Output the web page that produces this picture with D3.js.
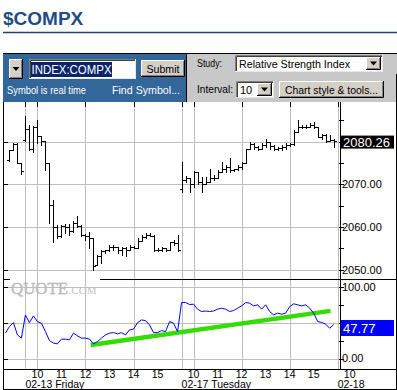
<!DOCTYPE html>
<html>
<head>
<meta charset="utf-8">
<script src="https://cdn.jsdelivr.net/npm/d3@7"></script>
<style>
  body { margin: 0; background: #fff; }
  svg { display: block; }
</style>
</head>
<body>
<div id="chart"></div>
<script>
// ---- data (10 minute bars, Thursday close, Friday 02-13, Tuesday 02-17) ----
// bar start time in trading minutes, Friday 9:30 = 0, one session = 390 min
const barTimes = d3.range(-40, 0, 10).concat(d3.range(0, 780, 10));
const rsiTimes = d3.range(-50, 0, 10).concat(d3.range(0, 780, 10));

const opens = [
  2075.8, 2078.0, 2079.5, 2075.0,
  2080.3, 2083.0, 2078.2, 2083.5, 2081.3, 2080.1, 2074.9, 2065.2, 2060.1, 2057.8,
  2060.3, 2060.0, 2059.0, 2061.0, 2060.3, 2058.2, 2057.8, 2057.4, 2051.2, 2053.1,
  2054.3, 2054.6, 2055.4, 2055.4, 2054.6, 2055.0, 2054.6, 2055.4, 2055.2, 2056.8,
  2057.6, 2058.1, 2057.8, 2054.6, 2054.6, 2055.0, 2054.6, 2056.6, 2056.2,
  2068.8, 2071.0, 2071.4, 2070.0, 2073.0, 2070.5, 2070.2, 2070.5, 2071.4, 2071.6,
  2072.9, 2073.5, 2074.1, 2073.3, 2073.5, 2074.1, 2075.1, 2078.2, 2079.4, 2078.8,
  2078.2, 2079.2, 2080.0, 2079.0, 2078.4, 2078.5, 2078.8, 2079.2, 2079.4, 2082.3,
  2083.5, 2083.5, 2083.5, 2084.0, 2083.5, 2081.1, 2081.5, 2080.2, 2080.5
];
const highs = [
  2078.1, 2079.7, 2079.6, 2075.0,
  2086.0, 2083.9, 2083.7, 2085.0, 2081.4, 2080.2, 2074.9, 2066.3, 2060.5, 2060.5,
  2060.7, 2060.7, 2061.3, 2062.6, 2060.5, 2058.3, 2058.9, 2057.4, 2053.5, 2054.6,
  2054.6, 2055.8, 2055.8, 2055.4, 2055.4, 2055.4, 2055.8, 2055.5, 2057.4, 2058.2,
  2058.6, 2058.6, 2058.2, 2055.0, 2055.4, 2055.0, 2056.6, 2057.0, 2058.2,
  2075.3, 2072.0, 2071.6, 2073.2, 2073.0, 2071.8, 2071.8, 2073.7, 2072.2, 2073.3,
  2075.3, 2074.5, 2076.1, 2073.7, 2074.5, 2075.3, 2078.4, 2080.0, 2079.6, 2078.9,
  2079.6, 2080.7, 2080.0, 2079.2, 2078.8, 2079.2, 2079.6, 2079.7, 2082.7, 2085.0,
  2083.9, 2083.9, 2084.3, 2084.6, 2083.5, 2081.9, 2081.9, 2081.5, 2080.7
];
const lows = [
  2075.5, 2078.0, 2075.0, 2072.4,
  2080.2, 2078.0, 2077.6, 2079.6, 2079.2, 2073.3, 2060.9, 2056.6, 2057.4, 2057.6,
  2058.6, 2058.2, 2058.9, 2060.1, 2057.8, 2057.0, 2055.0, 2050.0, 2051.2, 2051.5,
  2053.9, 2054.3, 2054.6, 2054.0, 2053.5, 2053.1, 2054.6, 2055.0, 2055.0, 2056.8,
  2057.4, 2057.8, 2054.3, 2054.3, 2054.3, 2054.3, 2054.6, 2055.8, 2054.3,
  2068.3, 2070.5, 2068.3, 2069.4, 2070.2, 2068.3, 2070.2, 2070.5, 2071.0, 2071.6,
  2072.9, 2072.9, 2072.9, 2073.1, 2073.3, 2073.7, 2075.1, 2078.2, 2078.4, 2078.0,
  2078.2, 2078.8, 2078.4, 2078.0, 2078.0, 2078.0, 2078.4, 2078.9, 2079.2, 2082.3,
  2083.1, 2083.1, 2083.4, 2083.1, 2081.0, 2080.7, 2080.0, 2080.2, 2078.8
];
const closes = [
  2078.0, 2079.4, 2075.1, 2073.2,
  2083.0, 2078.2, 2083.5, 2081.3, 2080.1, 2074.9, 2065.2, 2060.1, 2057.8, 2060.3,
  2060.0, 2059.0, 2061.0, 2060.3, 2058.2, 2057.8, 2057.4, 2050.9, 2053.1, 2054.3,
  2054.6, 2055.4, 2055.4, 2054.6, 2055.0, 2054.6, 2055.4, 2055.2, 2056.8, 2057.6,
  2058.1, 2057.8, 2054.6, 2054.6, 2055.0, 2054.6, 2056.6, 2056.2, 2054.6,
  2071.0, 2071.4, 2070.0, 2073.0, 2070.5, 2070.2, 2070.5, 2071.4, 2071.6, 2072.9,
  2073.5, 2074.1, 2073.3, 2073.5, 2074.1, 2075.1, 2078.2, 2079.4, 2078.8, 2078.2,
  2079.2, 2080.0, 2079.0, 2078.4, 2078.5, 2078.8, 2079.2, 2079.4, 2082.3, 2083.5,
  2083.5, 2083.5, 2084.0, 2083.5, 2081.1, 2081.5, 2080.2, 2080.5, 2080.26
];
const rsiValues = [
  35.6, 44.8, 50.4, 33.2, 28.6,
  61.2, 50.4, 59.8, 51.8, 49.6, 37.8, 25.2, 21.6, 20.6, 27.2, 27.2, 26.2, 35.6,
  31.9, 28.6, 28.6, 27.2, 20.6, 23.8, 28.6, 33.2, 35.6, 36.4, 34.6, 36.4, 33.2,
  40.2, 41.2, 50.4, 54.2, 53.2, 47.2, 36.4, 36.4, 39.2, 37.8, 51.8, 49.6, 37.8,
  78.6, 78.6, 75.8, 76.3, 69.3, 66.0, 66.7, 66.0, 66.7, 69.3, 70.7, 69.3, 66.0,
  67.4, 70.7, 73.9, 78.6, 77.7, 73.9, 75.4, 69.3, 75.4, 66.0, 61.3, 63.7, 62.2,
  63.7, 72.9, 76.8, 75.4, 73.9, 75.4, 70.7, 63.7, 51.9, 50.7, 48.2, 42.5, 47.77
];
// trend line drawn on the RSI study
const trendTimes = [163, 762];
const trendValues = [19.0, 66.9];

const priceTicks = [2050, 2060, 2070, 2080];
const priceMinorTicks = [2055, 2065, 2075, 2085];
const rsiTicks = [0, 100];
const rsiMinorTicks = [25, 50, 75];
const gridTimes = [0, 30, 150, 270, 390, 420, 540, 660, 780];
const hourLabels = ['10', '11', '12', '13', '14', '15'];
const hourMinutes = [30, 90, 150, 210, 270, 330];
const dayStarts = [0, 390, 780];
const dayLabels = ['02-13 Friday', '02-17 Tuesday', '02-18'];

const lastPrice = closes[closes.length - 1];
const lastRsi = rsiValues[rsiValues.length - 1];

// ---- layout ----
const width = 397, height = 390;
const font = 'Liberation Sans, Arial, sans-serif';
const plotLeft = 3, plotRight = 337.7, axisX = 340.5, frameRight = 396.5;
const priceTop = 102, priceBottom = 279.5, rsiBottom = 369.5, frameBottom = 389.5;

const svg = d3.select('#chart').append('svg')
  .attr('width', width)
  .attr('height', height);

const x = d3.scaleLinear().domain([-56, 780]).range([plotLeft, plotRight]);
const y = d3.scaleLinear().domain([2050, 2080]).range([269.7, 141.7]);
const yr = d3.scaleLinear().domain([0, 100]).range([358.5, 287.3]);
const px = v => Math.round(v) + 0.5;

// ---- title ----
svg.append('text')
  .attr('x', 3).attr('y', 25)
  .attr('font-family', font).attr('font-size', '19px').attr('font-weight', 'bold')
  .attr('fill', '#1d4d88')
  .text('$COMPX');
svg.append('line')
  .attr('x1', 3).attr('x2', 397).attr('y1', 32.5).attr('y2', 32.5)
  .attr('stroke', '#1d4070').attr('stroke-width', 1.5);

// ---- toolbar ----
const bar = svg.append('g');
bar.append('rect').attr('x', 3).attr('y', 53).attr('width', 183).attr('height', 49).attr('fill', '#336699');
bar.append('rect').attr('x', 186).attr('y', 53).attr('width', 211).attr('height', 49).attr('fill', '#c8c8c8');
bar.append('line').attr('x1', 3).attr('x2', 397).attr('y1', 53.5).attr('y2', 53.5).attr('stroke', '#000');
bar.append('line').attr('x1', 186.5).attr('x2', 186.5).attr('y1', 53).attr('y2', 102).attr('stroke', '#000');

function raised(g, x0, y0, w, h) {
  g.append('rect').attr('x', x0).attr('y', y0).attr('width', w).attr('height', h).attr('fill', '#d4d0c8');
  g.append('path').attr('d', `M${x0 + 0.5},${y0 + h}V${y0 + 0.5}H${x0 + w}`).attr('fill', 'none').attr('stroke', '#fff');
  g.append('path').attr('d', `M${x0},${y0 + h - 0.5}H${x0 + w - 0.5}V${y0}`).attr('fill', 'none').attr('stroke', '#000');
  g.append('path').attr('d', `M${x0 + 1},${y0 + h - 1.5}H${x0 + w - 1.5}V${y0 + 1}`).attr('fill', 'none').attr('stroke', '#808080');
}
function sunken(g, x0, y0, w, h) {
  g.append('rect').attr('x', x0).attr('y', y0).attr('width', w).attr('height', h).attr('fill', '#fff');
  g.append('path').attr('d', `M${x0 + 0.5},${y0 + h}V${y0 + 0.5}H${x0 + w}`).attr('fill', 'none').attr('stroke', '#808080');
  g.append('path').attr('d', `M${x0 + 1.5},${y0 + h - 1}V${y0 + 1.5}H${x0 + w - 1}`).attr('fill', 'none').attr('stroke', '#404040');
  g.append('path').attr('d', `M${x0},${y0 + h - 0.5}H${x0 + w - 0.5}V${y0}`).attr('fill', 'none').attr('stroke', '#e8e8e8');
}
function arrow(g, cx, cy) {
  g.append('path').attr('d', `M${cx - 3.5},${cy - 2}H${cx + 3.5}L${cx},${cy + 2}Z`).attr('fill', '#000');
}
function label(g, x0, y0, txt, opts) {
  const t = g.append('text').attr('x', x0).attr('y', y0)
    .attr('font-family', font).attr('font-size', opts.size || '11px')
    .attr('fill', opts.fill || '#000').text(txt);
  if (opts.len) t.attr('textLength', opts.len).attr('lengthAdjust', 'spacingAndGlyphs');
  if (opts.anchor) t.attr('text-anchor', opts.anchor);
  return t;
}

// symbol box (blue side)
raised(bar, 9, 59, 14, 20);
arrow(bar, 16, 69);
sunken(bar, 29, 59, 107, 20);
bar.append('rect').attr('x', 31).attr('y', 62).attr('width', 81).attr('height', 15).attr('fill', '#0a246a');
label(bar, 31.5, 74, 'INDEX:COMPX', { size: '13px', fill: '#fff', len: 80 });
raised(bar, 141, 60, 44, 17);
label(bar, 163, 72.5, 'Submit', { anchor: 'middle', len: 33 });
label(bar, 7, 93.5, 'Symbol is real time', { size: '10.5px', fill: '#fff', len: 79 });
label(bar, 112, 93.5, 'Find Symbol...', { size: '10.5px', fill: '#fff', len: 68 });

// study controls (grey side)
label(bar, 197, 66.5, 'Study:', { len: 25 });
sunken(bar, 235, 55, 148, 17);
label(bar, 239, 67.5, 'Relative Strength Index', { len: 111 });
raised(bar, 366, 57, 15, 13);
arrow(bar, 373.5, 63.5);
label(bar, 197, 93, 'Interval:', { len: 36 });
sunken(bar, 236, 81, 38, 17);
label(bar, 240, 93.5, '10', {});
raised(bar, 257, 83, 15, 13);
arrow(bar, 264.5, 89.5);
raised(bar, 279, 81, 105, 17);
label(bar, 331.5, 93.5, 'Chart style & tools...', { anchor: 'middle', len: 93 });

// ---- grid ----
const grid = svg.append('g').attr('stroke', '#bdbdbd').attr('stroke-width', 1.6).attr('shape-rendering', 'crispEdges');
grid.selectAll('line.v').data(gridTimes).join('line').attr('class', 'v')
  .attr('x1', d => px(x(d))).attr('x2', d => px(x(d)))
  .attr('y1', priceTop).attr('y2', rsiBottom);
grid.selectAll('line.p').data(priceTicks).join('line').attr('class', 'p')
  .attr('x1', plotLeft).attr('x2', plotRight)
  .attr('y1', d => px(y(d))).attr('y2', d => px(y(d)));
grid.selectAll('line.r').data([0, 50, 100]).join('line').attr('class', 'r')
  .attr('x1', plotLeft).attr('x2', plotRight)
  .attr('y1', d => px(yr(d))).attr('y2', d => px(yr(d)));

// ---- watermark ----
const serif = 'Liberation Serif, Times New Roman, serif';
svg.append('text').attr('x', 11).attr('y', 293.5)
  .attr('font-family', serif).attr('font-size', '17px')
  .attr('fill', '#c2c2c2').attr('stroke', '#b4b4b4').attr('stroke-width', 0.4)
  .attr('textLength', 57).attr('lengthAdjust', 'spacingAndGlyphs')
  .text('QUOTE');
svg.append('text').attr('x', 68.5).attr('y', 293.5)
  .attr('font-family', serif).attr('font-size', '11px')
  .attr('fill', '#c2c2c2')
  .attr('textLength', 28).attr('lengthAdjust', 'spacingAndGlyphs')
  .text('.COM');

// ---- frame & axes ----
const frame = svg.append('g').attr('stroke', '#000').attr('shape-rendering', 'crispEdges');
frame.append('line').attr('x1', 3.5).attr('x2', 3.5).attr('y1', priceTop).attr('y2', frameBottom);
frame.append('line').attr('x1', frameRight).attr('x2', frameRight).attr('y1', 74).attr('y2', frameBottom);
frame.append('line').attr('x1', 3).attr('x2', frameRight).attr('y1', frameBottom).attr('y2', frameBottom);
frame.append('line').attr('x1', 3).attr('x2', frameRight).attr('y1', rsiBottom).attr('y2', rsiBottom);
frame.append('line').attr('x1', 3).attr('x2', 10).attr('y1', priceBottom).attr('y2', priceBottom);
frame.append('line').attr('x1', 100).attr('x2', frameRight).attr('y1', priceBottom).attr('y2', priceBottom);
frame.append('line').attr('x1', axisX).attr('x2', axisX).attr('y1', priceTop).attr('y2', rsiBottom);

// top ticks on the time grid
frame.selectAll('line.tt').data(gridTimes).join('line').attr('class', 'tt')
  .attr('x1', d => px(x(d))).attr('x2', d => px(x(d)))
  .attr('y1', priceTop).attr('y2', priceTop + 5);
// left ticks
frame.selectAll('line.lp').data(priceTicks).join('line').attr('class', 'lp')
  .attr('x1', 3).attr('x2', 8).attr('y1', d => px(y(d))).attr('y2', d => px(y(d)));
frame.selectAll('line.lr').data([0, 50, 100]).join('line').attr('class', 'lr')
  .attr('x1', 3).attr('x2', 8).attr('y1', d => px(yr(d))).attr('y2', d => px(yr(d)));
// right ticks
frame.selectAll('line.rp').data(priceTicks.concat(priceMinorTicks)).join('line').attr('class', 'rp')
  .attr('x1', axisX - 2).attr('x2', axisX + 3).attr('y1', d => px(y(d))).attr('y2', d => px(y(d)));
frame.selectAll('line.rr').data(rsiTicks.concat(rsiMinorTicks)).join('line').attr('class', 'rr')
  .attr('x1', axisX - 2).attr('x2', axisX + 3).attr('y1', d => px(yr(d))).attr('y2', d => px(yr(d)));

// price labels: the one hidden under the last-price flag is left out
svg.selectAll('text.pl').data(priceTicks.filter(d => Math.abs(y(d) - y(lastPrice)) > 10)).join('text')
  .attr('class', 'pl')
  .attr('x', 342).attr('y', d => y(d)).attr('dy', '0.36em')
  .attr('font-family', font).attr('font-size', '11px').attr('fill', '#000')
  .text(d => d.toFixed(2));
svg.selectAll('text.rl').data(rsiTicks).join('text')
  .attr('class', 'rl')
  .attr('x', 342).attr('y', d => yr(d)).attr('dy', '0.36em')
  .attr('font-family', font).attr('font-size', '11px').attr('fill', '#000')
  .text(d => d.toFixed(2));

// time axis labels
const hourTicks = hourMinutes.map((m, i) => ({ t: m, s: hourLabels[i] }))
  .concat(hourMinutes.map((m, i) => ({ t: m + 390, s: hourLabels[i] })))
  .concat([{ t: hourMinutes[0] + 780, s: hourLabels[0] }]);
svg.selectAll('text.hl').data(hourTicks).join('text')
  .attr('class', 'hl')
  .attr('x', d => x(d.t)).attr('y', 377.5)
  .attr('text-anchor', 'middle')
  .attr('font-family', font).attr('font-size', '10.5px').attr('fill', '#000')
  .text(d => d.s);
svg.selectAll('text.dl').data(dayStarts.map((m, i) => ({ t: m, s: dayLabels[i] }))).join('text')
  .attr('class', 'dl')
  .attr('x', d => x(d.t)).attr('y', 388)
  .attr('font-family', font).attr('font-size', '10.5px').attr('fill', '#000')
  .text(d => d.s);

// ---- price bars ----
const bars = svg.append('g').attr('stroke', '#000').attr('shape-rendering', 'crispEdges');
barTimes.forEach((t, i) => {
  const bx = px(x(t));
  bars.append('line').attr('x1', bx).attr('x2', bx)
    .attr('y1', Math.round(y(highs[i]))).attr('y2', Math.round(y(lows[i])) + 1);
  bars.append('line').attr('x1', bx - 2.5).attr('x2', bx)
    .attr('y1', px(y(opens[i]))).attr('y2', px(y(opens[i])));
  bars.append('line').attr('x1', bx).attr('x2', bx + 2.5)
    .attr('y1', px(y(closes[i]))).attr('y2', px(y(closes[i])));
});

// ---- RSI study ----
svg.append('line')
  .attr('x1', x(trendTimes[0])).attr('y1', yr(trendValues[0]))
  .attr('x2', x(trendTimes[1])).attr('y2', yr(trendValues[1]))
  .attr('stroke', '#33dd00').attr('stroke-width', 4.5);

svg.append('path')
  .datum(rsiTimes.map((t, i) => [x(t), yr(rsiValues[i])]))
  .attr('d', d3.line())
  .attr('fill', 'none')
  .attr('stroke', '#0000ff')
  .attr('stroke-width', 1);

// ---- last value flags ----
svg.append('rect').attr('x', 341).attr('y', y(lastPrice) - 5).attr('width', 53).attr('height', 13).attr('fill', '#000');
svg.append('text').attr('x', 343).attr('y', y(lastPrice) + 6)
  .attr('font-family', font).attr('font-size', '13px').attr('fill', '#fff')
  .text(lastPrice.toFixed(2));
svg.append('rect').attr('x', 341).attr('y', yr(lastRsi) - 4.5).attr('width', 53).attr('height', 16).attr('fill', '#0000ff');
svg.append('text').attr('x', 343).attr('y', yr(lastRsi) + 8.5)
  .attr('font-family', font).attr('font-size', '13px').attr('fill', '#fff')
  .text(lastRsi.toFixed(2));
</script>
</body>
</html>
